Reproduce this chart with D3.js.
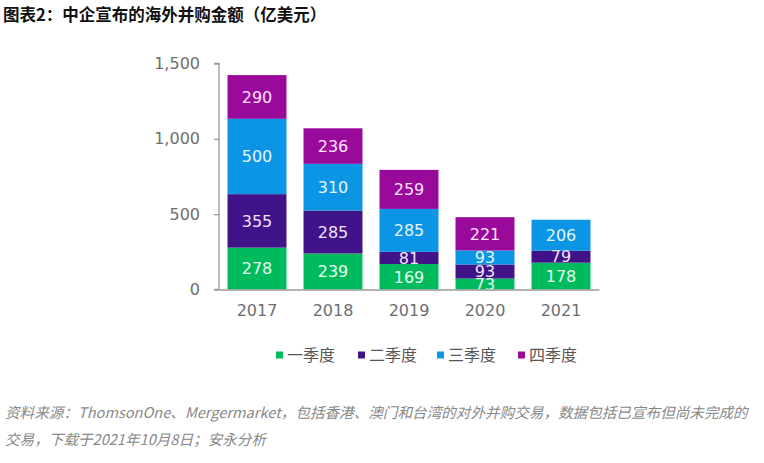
<!DOCTYPE html>
<html>
<head>
<meta charset="utf-8">
<script src="https://cdn.jsdelivr.net/npm/d3@7"></script>
<style>
  body { margin: 0; background: #fff; }
  svg { display: block; }
</style>
</head>
<body>
<svg width="764" height="463"></svg>
<script>
// chart data
var years = ["2017", "2018", "2019", "2020", "2021"];
var quarters = ["一季度", "二季度", "三季度", "四季度"];
var q1 = [278, 239, 169, 73, 178];
var q2 = [355, 285, 81, 93, 79];
var q3 = [500, 310, 285, 93, 206];
var q4 = [290, 236, 259, 221, 0];
var yTicks = [0, 500, 1000, 1500];

var colors = ["#00bb5e", "#411388", "#0b95e4", "#990a9a"];
var labelColors = ["#e8fff0", "#f0e4ff", "#e4f6ff", "#ffe4ff"];

var svg = d3.select("svg");

var rows = years.map(function (y, i) {
    return { year: y, q1: q1[i], q2: q2[i], q3: q3[i], q4: q4[i] };
});
var stack = d3.stack().keys(["q1", "q2", "q3", "q4"]);
var series = stack(rows);

var x = d3.scaleBand().domain(years).range([219, 599])
    .paddingInner(0.224).paddingOuter(0.112);
var y = d3.scaleLinear().domain([0, 1500]).range([289.5, 63.5]);

// title
svg.append("text")
    .attr("x", 3).attr("y", 21)
    .attr("font-family", "'Noto Sans CJK SC', sans-serif")
    .attr("font-weight", "bold")
    .attr("font-size", 16.5)
    .attr("fill", "#111")
    .text("图表2：中企宣布的海外并购金额（亿美元）");

// bars
var groups = svg.append("g").selectAll("g").data(series).enter().append("g")
    .attr("fill", function (d, i) { return colors[i]; });

groups.selectAll("rect").data(function (d) { return d; }).enter().append("rect")
    .attr("x", function (d) { return x(d.data.year); })
    .attr("y", function (d) { return y(d[1]); })
    .attr("width", x.bandwidth())
    .attr("height", function (d) { return y(d[0]) - y(d[1]); });

// value labels
series.forEach(function (s, i) {
    svg.append("g").selectAll("text")
        .data(s.filter(function (d) { return d[1] - d[0] > 0; }))
        .enter().append("text")
        .attr("x", function (d) { return x(d.data.year) + x.bandwidth() / 2; })
        .attr("y", function (d) { return (y(d[0]) + y(d[1])) / 2; })
        .attr("dy", "0.36em")
        .attr("text-anchor", "middle")
        .attr("font-family", "'DejaVu Sans', Verdana, sans-serif")
        .attr("font-size", 16)
        .attr("fill", labelColors[i])
        .text(function (d) { return d[1] - d[0]; });
});

// y axis
var yAxis = svg.append("g")
    .attr("transform", "translate(219,0)")
    .call(d3.axisLeft(y).tickValues(yTicks).tickSize(5).tickPadding(14)
        .tickFormat(d3.format(",")));
yAxis.selectAll("path, line").attr("stroke", "#9a9a9a").attr("stroke-width", 1.3);
yAxis.select(".domain").attr("d", "M-5," + y(1500) + "H0V" + y(0) + "H-5");
yAxis.selectAll("text")
    .attr("font-family", "'DejaVu Sans', Verdana, sans-serif")
    .attr("font-size", 16)
    .attr("fill", "#6e6e6e");

// x axis
var xAxis = svg.append("g")
    .attr("transform", "translate(0," + y(0) + ")")
    .call(d3.axisBottom(x).tickSize(0).tickPadding(15));
xAxis.select(".domain").attr("stroke", "#9a9a9a").attr("stroke-width", 1.3);
xAxis.selectAll("text")
    .attr("font-family", "'DejaVu Sans', Verdana, sans-serif")
    .attr("font-size", 16)
    .attr("fill", "#6e6e6e");

// legend
var legendX = [276, 358, 437, 518];
var legend = svg.append("g").selectAll("g").data(quarters).enter().append("g")
    .attr("transform", function (d, i) { return "translate(" + legendX[i] + ",355)"; });
legend.append("rect")
    .attr("x", 0).attr("y", -3.5).attr("width", 7).attr("height", 7)
    .attr("fill", function (d, i) { return colors[i]; });
legend.append("text")
    .attr("x", 11).attr("dy", "0.36em")
    .attr("font-family", "'Noto Sans CJK SC', sans-serif")
    .attr("font-size", 16)
    .attr("fill", "#555")
    .text(function (d) { return d; });

// source note
var notes = [
    "资料来源：ThomsonOne、Mergermarket，包括香港、澳门和台湾的对外并购交易，数据包括已宣布但尚未完成的",
    "交易，下载于2021年10月8日；安永分析"
];
svg.append("g").selectAll("text").data(notes).enter().append("text")
    .attr("x", 5)
    .attr("y", function (d, i) { return 418 + i * 27; })
    .attr("font-family", "'Noto Sans CJK SC', sans-serif")
    .attr("font-style", "italic")
    .attr("font-size", 14.6)
    .attr("fill", "#888")
    .text(function (d) { return d; });
</script>
</body>
</html>
